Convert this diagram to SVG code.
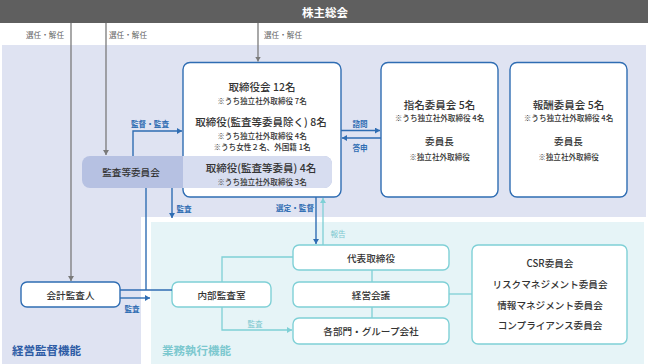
<svg xmlns="http://www.w3.org/2000/svg" width="648" height="364" viewBox="0 0 648 364">
<style>
text{font-family:"Noto Sans CJK JP","Noto Sans",sans-serif;dominant-baseline:central;text-anchor:middle}
.t{font-size:10.5px;font-weight:500;fill:#333}
.b{font-size:9.6px;font-weight:500;fill:#333}
.n{font-size:7.6px;font-weight:500;fill:#333}
.gl{font-size:7.6px;fill:#666}
.bl{font-size:7.6px;font-weight:700;fill:#2f6db3}
.tl{font-size:7.6px;fill:#7cc8cf}
.gline{stroke:#7a7a7a;stroke-width:1.3;fill:none}
.bline{stroke:#2f6db3;stroke-width:1.4;fill:none}
.tline{stroke:#7fd0d6;stroke-width:1.3;fill:none}
.bbox{fill:#fff;stroke:#2f6db3;stroke-width:1.4}
.tbox{fill:#fff;stroke:#7fd0d6;stroke-width:1.4}
</style>
<defs>
<marker id="ag" markerUnits="userSpaceOnUse" markerWidth="7" markerHeight="7" refX="5" refY="3" orient="auto"><path d="M0,0 L5,3 L0,6 Z" fill="#7a7a7a"/></marker>
<marker id="ab" markerUnits="userSpaceOnUse" markerWidth="7" markerHeight="7" refX="5" refY="3" orient="auto"><path d="M0,0 L5,3 L0,6 Z" fill="#2f6db3"/></marker>
<marker id="at" markerUnits="userSpaceOnUse" markerWidth="7" markerHeight="7" refX="5" refY="3" orient="auto"><path d="M0,0 L5,3 L0,6 Z" fill="#7fd0d6"/></marker>
<clipPath id="bandclip"><rect x="82" y="156" width="250" height="32" rx="8"/></clipPath>
</defs>

<g id="background">
<rect x="0" y="0" width="648" height="364" fill="#fff"/>
<path d="M2,45 H646 V217 H141 V364 H2 Z" fill="#dfe3f2"/>
<rect x="151" y="222" width="493" height="142" fill="#e6f4f7"/>
<rect x="0" y="0" width="648" height="23" fill="#5f5f5f"/>
<text x="325" y="12" style="font-size:11.5px;font-weight:700;fill:#fff">株主総会</text>
<text x="12" y="350" style="font-size:11.5px;font-weight:700;fill:#2d5ba5;text-anchor:start">経営監督機能</text>
<text x="162" y="350" style="font-size:11.5px;font-weight:700;fill:#7cc8cf;text-anchor:start">業務執行機能</text>
</g>

<g id="board">
<rect class="bbox" x="183" y="62.5" width="158" height="134.5" rx="7"/>
<text class="t" x="262" y="86">取締役会 12名</text>
<text class="n" x="262" y="100">※うち独立社外取締役 7名</text>
<text class="t" x="261" y="121">取締役(監査等委員除く) 8名</text>
<text class="n" x="262" y="135">※うち独立社外取締役 4名</text>
<text class="n" x="262" y="146">※うち女性２名、外国籍 1名</text>
</g>

<g id="audit-committee">
<g clip-path="url(#bandclip)">
<rect x="82" y="156" width="250" height="32" fill="#b6c1e2"/>
<rect x="183" y="156" width="150" height="32" fill="#d7ddf0"/>
</g>
<text class="b" x="131" y="172">監査等委員会</text>
<text class="t" x="261" y="167">取締役(監査等委員) 4名</text>
<text class="n" x="262" y="181">※うち独立社外取締役 3名</text>
</g>

<g id="nomination">
<rect class="bbox" x="381" y="62.5" width="117" height="134.5" rx="7"/>
<text class="t" x="439.5" y="104">指名委員会 5名</text>
<text class="n" x="439.5" y="117">※うち独立社外取締役 4名</text>
<text class="b" x="439.5" y="141">委員長</text>
<text class="n" x="439.5" y="156">※独立社外取締役</text>
</g>

<g id="compensation">
<rect class="bbox" x="510" y="62.5" width="117" height="134.5" rx="7"/>
<text class="t" x="568.5" y="104">報酬委員会 5名</text>
<text class="n" x="568.5" y="117">※うち独立社外取締役 4名</text>
<text class="b" x="568.5" y="141">委員長</text>
<text class="n" x="568.5" y="156">※独立社外取締役</text>
</g>

<g id="accounting-auditor">
<rect class="bbox" x="21" y="282" width="99" height="25" rx="6"/>
<text class="b" x="70.5" y="294.5">会計監査人</text>
</g>

<g id="internal-audit">
<rect class="tbox" x="172" y="282" width="99" height="25" rx="6"/>
<text class="b" x="221.5" y="294.5">内部監査室</text>
</g>

<g id="representative">
<rect class="tbox" x="293" y="245" width="156" height="25" rx="6"/>
<text class="b" x="371" y="257.5">代表取締役</text>
</g>

<g id="management-meeting">
<rect class="tbox" x="293" y="282" width="156" height="25" rx="6"/>
<text class="b" x="371" y="294.5">経営会議</text>
</g>

<g id="departments">
<rect class="tbox" x="293" y="318" width="156" height="26" rx="6"/>
<text class="b" x="371" y="331">各部門・グループ会社</text>
</g>

<g id="committees">
<rect class="tbox" x="472" y="245" width="155" height="99" rx="6"/>
<text class="b" x="550" y="263">CSR委員会</text>
<text class="b" x="550" y="284">リスクマネジメント委員会</text>
<text class="b" x="550" y="305">情報マネジメント委員会</text>
<text class="b" x="550" y="325">コンプライアンス委員会</text>
</g>

<g id="connectors">
<path class="gline" d="M71,23 V281" marker-end="url(#ag)"/>
<path class="gline" d="M106,23 V155" marker-end="url(#ag)"/>
<path class="gline" d="M258,23 V61.5" marker-end="url(#ag)"/>
<text class="gl" x="45" y="34">選任・解任</text>
<text class="gl" x="128" y="34">選任・解任</text>
<text class="gl" x="283" y="34">選任・解任</text>

<path class="bline" d="M133,156 V131 H182" marker-end="url(#ab)"/>
<text class="bl" x="150" y="123">監督・監査</text>
<path class="bline" d="M341,130.5 H380" marker-end="url(#ab)"/>
<path class="bline" d="M381,138 H342" marker-end="url(#ab)"/>
<text class="bl" x="360" y="123">諮問</text>
<text class="bl" x="360" y="147">答申</text>

<path class="bline" d="M172,188 V218" marker-end="url(#ab)"/>
<text class="bl" x="184" y="208">監査</text>
<path class="bline" d="M146,188 V290"/>
<path class="bline" d="M120,290 H172"/>
<path class="bline" d="M120,298 H150" marker-end="url(#ab)"/>
<text class="bl" x="132" y="308">監査</text>

<path class="bline" d="M316,197 V244" marker-end="url(#ab)"/>
<text class="bl" x="295" y="207">選定・監督</text>
<path class="tline" d="M323,245 V198" marker-end="url(#at)"/>
<text class="tl" x="338" y="233">報告</text>

<path class="tline" d="M222,282 V257 H293"/>
<path class="tline" d="M222,307 V330 H292" marker-end="url(#at)"/>
<text class="tl" x="255" y="323">監査</text>
<path class="tline" d="M372,270 V282"/>
<path class="tline" d="M372,307 V318"/>
<path class="tline" d="M449,294 H472"/>
</g>
</svg>
